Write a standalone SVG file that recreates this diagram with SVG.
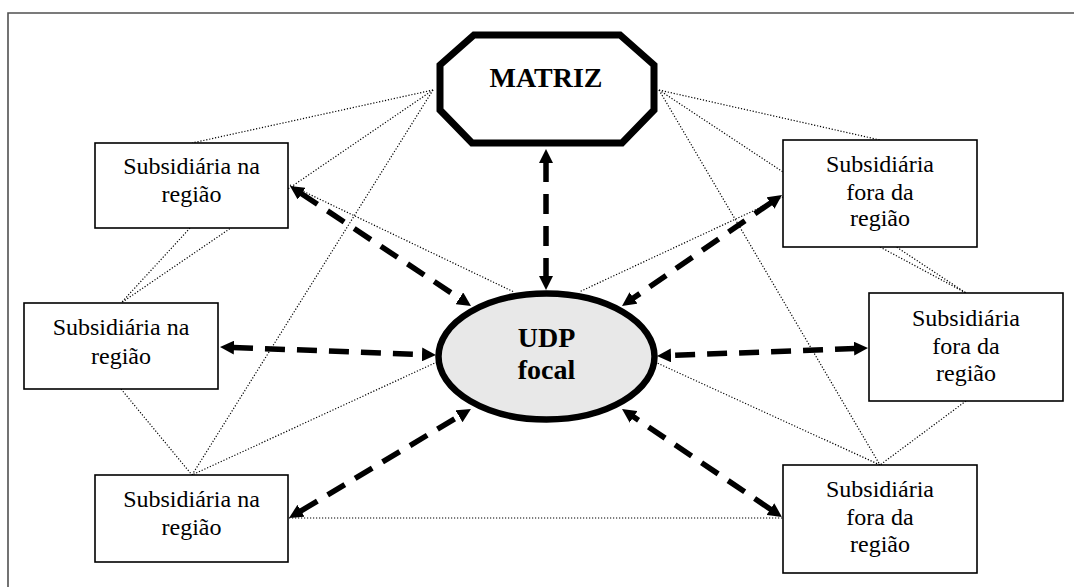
<svg xmlns="http://www.w3.org/2000/svg" width="1074" height="587" viewBox="0 0 1074 587">
<style>
.frame{fill:none;stroke:#505050;stroke-width:1.6}
.box{fill:#fff;stroke:#000;stroke-width:1.6}
.dot{fill:none;stroke:#000;stroke-width:1.2;stroke-dasharray:1.2 1.8}
.dash{fill:none;stroke:#000;stroke-width:5.5;stroke-dasharray:20 12;marker-start:url(#ah);marker-end:url(#ah)}
.t{font-family:"Liberation Serif","Times New Roman",serif;font-size:24px;fill:#000;text-anchor:middle}
.tb{font-family:"Liberation Serif","Times New Roman",serif;font-size:28px;font-weight:bold;fill:#000;text-anchor:middle}
</style>
<defs>
<marker id="ah" viewBox="0 0 14 14" refX="1" refY="7" markerWidth="14" markerHeight="14" markerUnits="userSpaceOnUse" orient="auto-start-reverse">
<path d="M0,0 L14,7 L0,14 z" fill="#000"/>
</marker>
</defs>
<rect width="1074" height="587" fill="#fff"/>
<path class="frame" d="M8,587 V13 H1074"/>
<g id="connectors">
<line class="dot" x1="433" y1="90" x2="192" y2="143"/>
<line class="dot" x1="433" y1="90" x2="121" y2="303"/>
<line class="dot" x1="433" y1="90" x2="192" y2="475"/>
<line class="dot" x1="190" y1="228" x2="121" y2="303"/>
<line class="dot" x1="290" y1="185" x2="514" y2="292"/>
<line class="dot" x1="121" y1="389" x2="192" y2="475"/>
<line class="dot" x1="437" y1="362" x2="192" y2="475"/>
<line class="dot" x1="289" y1="518" x2="783" y2="518"/>
<line class="dot" x1="659" y1="90" x2="880" y2="140"/>
<line class="dot" x1="659" y1="90" x2="966" y2="293"/>
<line class="dot" x1="659" y1="90" x2="880" y2="465"/>
<line class="dot" x1="880" y1="247" x2="966" y2="293"/>
<line class="dot" x1="783" y1="197" x2="579" y2="292"/>
<line class="dot" x1="966" y1="401" x2="880" y2="465"/>
<line class="dot" x1="655" y1="362" x2="880" y2="465"/>
<line class="dash" x1="546" y1="162" x2="546" y2="277"/>
<line class="dash" x1="300.8" y1="193.2" x2="460.2" y2="298.8"/>
<line class="dash" x1="233" y1="347.5" x2="423" y2="354.5"/>
<line class="dash" x1="300.2" y1="511.3" x2="459.8" y2="415.7"/>
<line class="dash" x1="771.3" y1="202.4" x2="632.7" y2="298.6"/>
<line class="dash" x1="855" y1="348.5" x2="670" y2="355.5"/>
<line class="dash" x1="771.2" y1="509.7" x2="632.8" y2="416.3"/>
</g>
<g id="matriz">
<polygon points="474,35 620,35 654,65 654,110 622,143 472,143 440,110 440,65" fill="#fff" stroke="#000" stroke-width="7"/>
<text class="tb" x="546" y="87">MATRIZ</text>
</g>
<g id="udp">
<ellipse cx="546.5" cy="356.5" rx="108" ry="63" fill="#e8e8e8" stroke="#000" stroke-width="6.5"/>
<text class="tb" x="546.5" y="347">UDP</text>
<text class="tb" x="546.5" y="379">focal</text>
</g>
<g id="sub-tl">
<rect class="box" x="95" y="143" width="193" height="85"/>
<text class="t" x="191.5" y="174">Subsidiária na</text>
<text class="t" x="191.5" y="202">região</text>
</g>
<g id="sub-ml">
<rect class="box" x="24" y="303" width="194" height="86"/>
<text class="t" x="121" y="335">Subsidiária na</text>
<text class="t" x="121" y="364">região</text>
</g>
<g id="sub-bl">
<rect class="box" x="95" y="475" width="193" height="87"/>
<text class="t" x="191.5" y="507">Subsidiária na</text>
<text class="t" x="191.5" y="535">região</text>
</g>
<g id="sub-tr">
<rect class="box" x="783" y="140" width="194" height="107"/>
<text class="t" x="880" y="172">Subsidiária</text>
<text class="t" x="880" y="200">fora da</text>
<text class="t" x="880" y="226">região</text>
</g>
<g id="sub-mr">
<rect class="box" x="869" y="293" width="194" height="108"/>
<text class="t" x="966" y="326">Subsidiária</text>
<text class="t" x="966" y="354">fora da</text>
<text class="t" x="966" y="381">região</text>
</g>
<g id="sub-br">
<rect class="box" x="783" y="465" width="194" height="108"/>
<text class="t" x="880" y="497">Subsidiária</text>
<text class="t" x="880" y="525">fora da</text>
<text class="t" x="880" y="552">região</text>
</g>
</svg>
